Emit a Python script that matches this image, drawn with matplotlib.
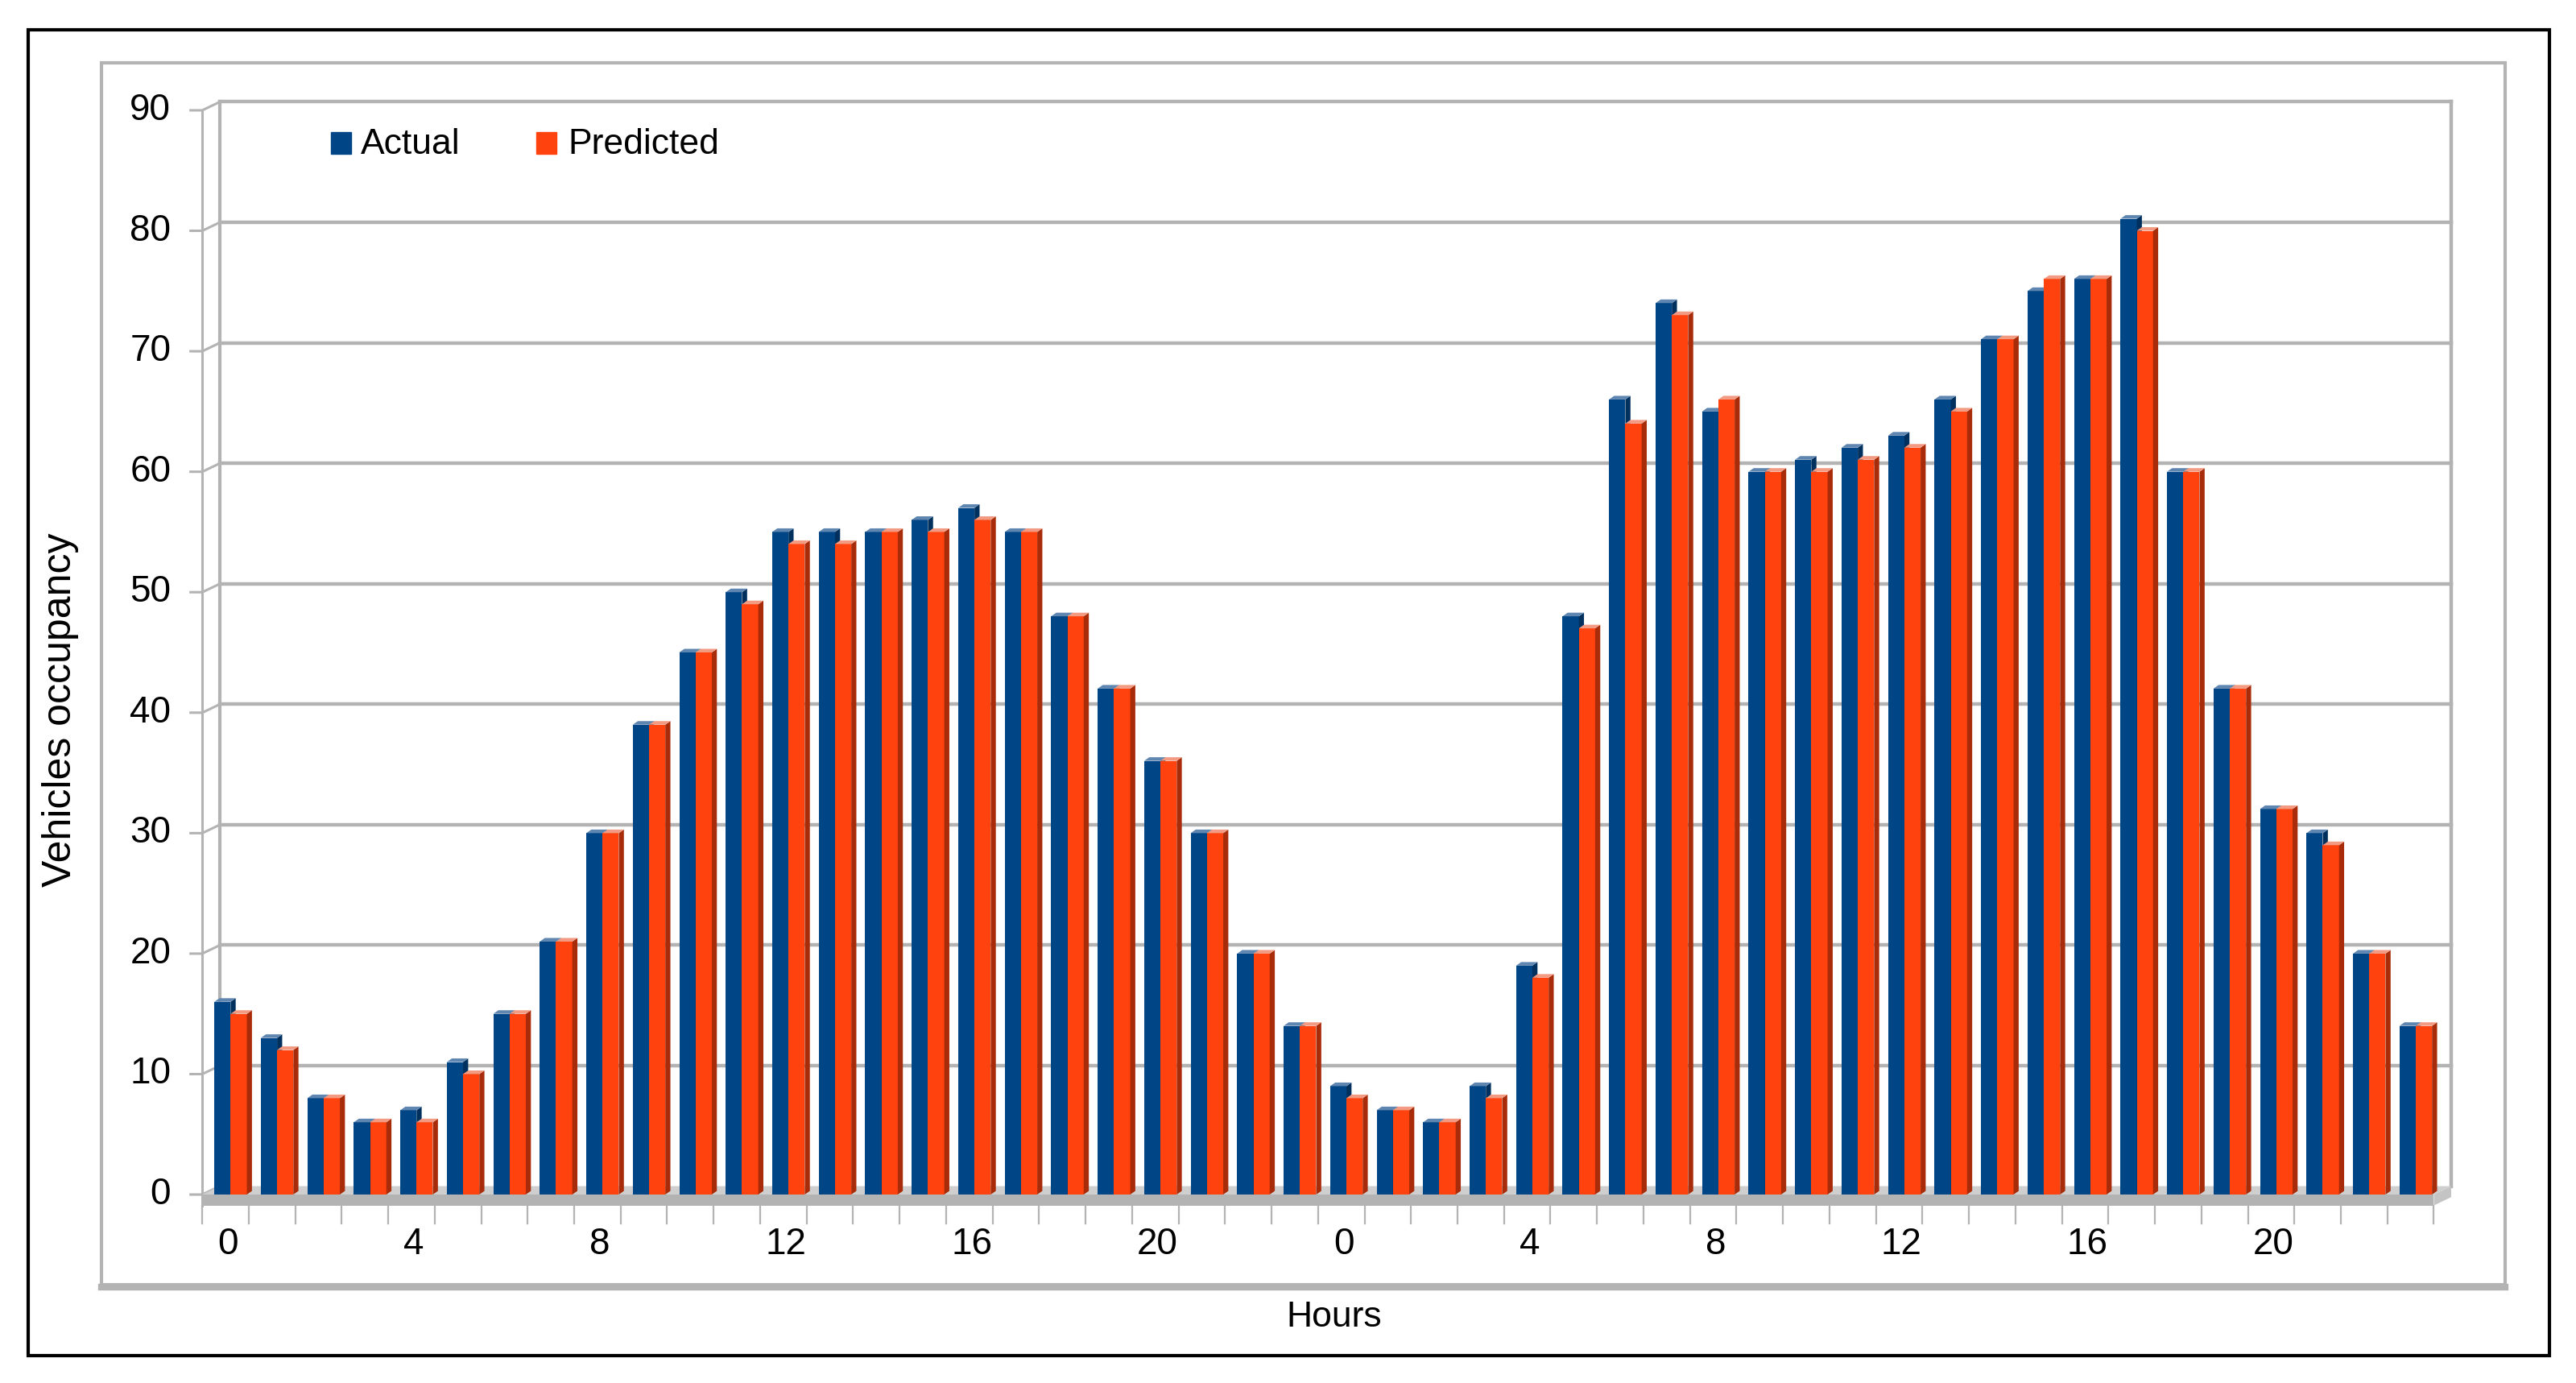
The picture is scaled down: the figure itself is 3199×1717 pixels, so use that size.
import matplotlib
matplotlib.use('Agg')
import matplotlib.pyplot as plt
from matplotlib.patches import Rectangle
import numpy as np

# two days of hourly values
actual = [16, 13, 8, 6, 7, 11, 15, 21, 30, 39, 45, 50, 55, 55, 55, 56, 57, 55, 48, 42, 36, 30, 20, 14,
          9, 7, 6, 9, 19, 48, 66, 74, 65, 60, 61, 62, 63, 66, 71, 75, 76, 81, 60, 42, 32, 30, 20, 14]
predicted = [15, 12, 8, 6, 6, 10, 15, 21, 30, 39, 45, 49, 54, 54, 55, 55, 56, 55, 48, 42, 36, 30, 20, 14,
             8, 7, 6, 8, 18, 47, 64, 73, 66, 60, 60, 61, 62, 65, 71, 76, 76, 80, 60, 42, 32, 29, 20, 14]
hour_labels = ['0', '4', '8', '12', '16', '20', '0', '4', '8', '12', '16', '20']
y_ticks = [0, 10, 20, 30, 40, 50, 60, 70, 80, 90]

BLUE, BLUE_SIDE, BLUE_TOP = '#004586', '#00305e', '#5f86b0'
ORANGE, ORANGE_SIDE, ORANGE_TOP = '#ff420e', '#a82c09', '#f29a82'
GRID = '#b3b3b3'
FONT = ['Liberation Sans', 'DejaVu Sans']

n = len(actual)
x = np.arange(n)
wdx, wdy = 0.38, 0.7    # back wall offset (fake 3d)
bdx, bdy = 0.11, 0.3    # bar depth

fig = plt.figure(figsize=(31.99, 17.17), dpi=100)
ax = fig.add_axes([0.0785, 0.1258, 0.873, 0.8014])
ax.set_xlim(-0.5, 47.87)
ax.set_ylim(-1.2, 90.8)
ax.axis('off')

# back wall grid + walls
for v in y_ticks[1:]:
    ax.plot([-0.5 + wdx, n - 0.5 + wdx], [v + wdy, v + wdy], color=GRID, lw=3.2, zorder=1, clip_on=False)
for v in y_ticks:
    ax.plot([-0.75, -0.5, -0.5 + wdx], [v, v, v + wdy], color=GRID, lw=2.2, zorder=1, clip_on=False)
ax.plot([-0.5, -0.5], [-0.9, 90], color=GRID, lw=2.2, zorder=1, clip_on=False)
ax.plot([-0.5 + wdx, -0.5 + wdx], [wdy, 90 + wdy], color=GRID, lw=3, zorder=1, clip_on=False)
ax.plot([n - 0.5 + wdx, n - 0.5 + wdx], [wdy, 90 + wdy], color=GRID, lw=3.2, zorder=1, clip_on=False)

# floor
ax.fill([-0.5, n - 0.5, n - 0.5 + wdx, -0.5 + wdx], [0, 0, wdy, wdy], color='#cfcfcf', zorder=2, lw=0)
ax.fill([-0.5, n - 0.5, n - 0.5, -0.5], [0, 0, -0.9, -0.9], color=GRID, zorder=2, lw=0, clip_on=False)
ax.fill([n - 0.5, n - 0.5 + wdx, n - 0.5 + wdx, n - 0.5], [-0.9, -0.2, wdy, 0], color='#c4c4c4', zorder=2, lw=0)
for k in range(n + 1):
    ax.plot([k - 0.5, k - 0.5], [-0.9, -2.4], color=GRID, lw=1.6, zorder=1, clip_on=False)

# bars: front faces, then sides and tops
bl, br = -0.24, 0.11
ol, orr = 0.11, 0.46
ax.bar(x + (bl + br) / 2, actual, br - bl, color=BLUE, zorder=3, lw=0)
ax.bar(x + (ol + orr) / 2, predicted, orr - ol, color=ORANGE, zorder=5, lw=0)
for k in range(n):
    h = actual[k]
    ax.fill([k + br, k + br + bdx, k + br + bdx, k + br], [0, bdy, h + bdy, h], color=BLUE_SIDE, zorder=4, lw=0)
    ax.fill([k + bl, k + br, k + br + bdx, k + bl + bdx], [h, h, h + bdy, h + bdy], color=BLUE_TOP, zorder=4, lw=0)
    h = predicted[k]
    ax.fill([k + orr, k + orr + bdx, k + orr + bdx, k + orr], [0, bdy, h + bdy, h], color=ORANGE_SIDE, zorder=6, lw=0)
    ax.fill([k + ol, k + orr, k + orr + bdx, k + ol + bdx], [h, h, h + bdy, h + bdy], color=ORANGE_TOP, zorder=6, lw=0)

# tick labels
for v in y_ticks:
    ax.text(-1.175, v, str(v), ha='right', va='center', fontsize=33, family=FONT)
for i, lab in enumerate(hour_labels):
    ax.text(4 * i + 0.05, -4.15, lab, ha='center', va='center', fontsize=33, family=FONT)

# legend
fig.patches.append(Rectangle((0.1285, 0.8888), 0.0078, 0.0157, transform=fig.transFigure, color=BLUE))
fig.patches.append(Rectangle((0.2082, 0.8888), 0.0078, 0.0157, transform=fig.transFigure, color=ORANGE))
fig.text(0.140, 0.8888, 'Actual', ha='left', va='baseline', fontsize=32, family=FONT)
fig.text(0.2204, 0.8888, 'Predicted', ha='left', va='baseline', fontsize=32, family=FONT)

fig.text(0.0234, 0.4869, 'Vehicles occupancy', rotation=90, ha='center', va='center',
         fontsize=36, family=FONT)
fig.text(0.518, 0.0472, 'Hours', ha='center', va='center', fontsize=32, family=FONT)

# frames
fig.patches.append(Rectangle((0.0394, 0.0711), 0.9331, 0.8835, transform=fig.transFigure,
                             fill=False, edgecolor=GRID, lw=3))
fig.lines.append(plt.Line2D([0.0394, 0.9725], [0.0695, 0.0695], transform=fig.transFigure, color=GRID, lw=6))
fig.patches.append(Rectangle((0.0109, 0.0198), 0.9788, 0.9587, transform=fig.transFigure,
                             fill=False, edgecolor='black', lw=3))

fig.savefig('out.png', dpi=100)
